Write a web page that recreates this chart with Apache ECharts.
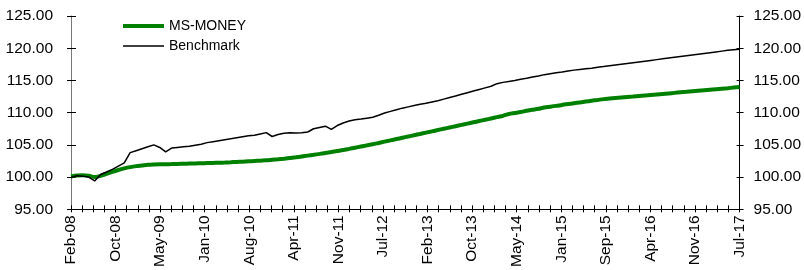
<!DOCTYPE html>
<html lang="en">
<head>
  <meta charset="UTF-8">
  <title>MS-MONEY vs Benchmark</title>
  <style>
    html, body { margin: 0; padding: 0; background: #fff; }
    #chart { width: 804px; height: 270px; }
  </style>
</head>
<body>
  <div id="chart"></div>
  <script src="https://cdn.jsdelivr.net/npm/echarts@6/dist/echarts.min.js"></script>
  <script>
    // tick labels on the date axis, one every 4 ticks (60 ticks from Feb-08 to Jul-17)
    var dateLabels = ['Feb-08', 'Oct-08', 'May-09', 'Jan-10', 'Aug-10', 'Apr-11', 'Nov-11', 'Jul-12',
      'Feb-13', 'Oct-13', 'May-14', 'Jan-15', 'Sep-15', 'Apr-16', 'Nov-16', 'Jul-17'];
    var totalMonths = 113;   // Feb-08 .. Jul-17
    var tickCount = 60;

    // monthly index values, Feb-08 .. Jul-17
    var msMoney = [
      100.1, 100.25, 100.3, 100.2, 100.0, 100.2, 100.5, 100.8, 101.1, 101.35,
      101.55, 101.7, 101.8, 101.9, 101.95, 101.98, 102.0, 102.02, 102.05, 102.07,
      102.1, 102.12, 102.15, 102.18, 102.2, 102.23, 102.26, 102.3, 102.35, 102.4,
      102.45, 102.5, 102.55, 102.6, 102.68, 102.76, 102.85, 102.95, 103.07, 103.2,
      103.33, 103.46, 103.6, 103.75, 103.9, 104.05, 104.2, 104.38, 104.56, 104.74,
      104.92, 105.1, 105.3, 105.5, 105.7, 105.9, 106.1, 106.3, 106.5, 106.7,
      106.9, 107.1, 107.3, 107.5, 107.7, 107.9, 108.1, 108.3, 108.5, 108.7,
      108.9, 109.1, 109.3, 109.5, 109.8, 109.95, 110.1, 110.3, 110.45, 110.6,
      110.8, 110.92, 111.05, 111.2, 111.33, 111.46, 111.59, 111.72, 111.85, 111.97,
      112.1, 112.18, 112.26, 112.34, 112.42, 112.5, 112.59, 112.67, 112.75, 112.83,
      112.91, 112.99, 113.07, 113.15, 113.23, 113.32, 113.4, 113.48, 113.56, 113.64,
      113.72, 113.8, 113.89, 113.97
    ];
    var benchmark = [
      99.95, 100.2, 100.15, 100.0, 99.4, 100.4, 100.8, 101.2, 101.7, 102.2,
      103.8, 104.1, 104.4, 104.7, 105.0, 104.6, 103.9, 104.5, 104.6, 104.7,
      104.8, 104.95, 105.1, 105.35, 105.5, 105.65, 105.8, 105.95, 106.1, 106.25,
      106.4, 106.5, 106.7, 106.9, 106.3, 106.6, 106.8, 106.9, 106.85, 106.9,
      107.0, 107.5, 107.7, 107.9, 107.4, 108.0, 108.4, 108.7, 108.9, 109.0,
      109.15, 109.3, 109.6, 109.95, 110.2, 110.45, 110.7, 110.9, 111.1, 111.3,
      111.45, 111.65, 111.85, 112.1, 112.35, 112.6, 112.85, 113.1, 113.35, 113.6,
      113.85, 114.1, 114.5, 114.7, 114.85, 115.0, 115.2, 115.35, 115.55, 115.7,
      115.9, 116.05, 116.2, 116.3, 116.45, 116.6, 116.7, 116.8, 116.9, 117.05,
      117.15, 117.27, 117.39, 117.51, 117.63, 117.75, 117.87, 117.99, 118.11, 118.23,
      118.35, 118.47, 118.59, 118.71, 118.83, 118.95, 119.07, 119.19, 119.31, 119.43,
      119.55, 119.67, 119.76, 119.85
    ];

    // month index -> position in tick units on the x axis
    function toPoints(values) {
      return values.map(function (v, m) {
        return [m * tickCount / totalMonths, v];
      });
    }

    var font = 'Liberation Sans';
    var yBase = {
      type: 'value', min: 95, max: 125, interval: 5,
      splitLine: { show: false },
      axisLine: { show: true, onZero: false, lineStyle: { color: '#000', width: 1 } },
      axisTick: { show: true, length: 4, lineStyle: { color: '#000' } }
    };
    function fmt(v) { return v.toFixed(2); }

    var myChart = echarts.init(document.getElementById('chart'));
    var option = {
      animation: false,
      backgroundColor: '#fff',
      grid: { left: 71, right: 60, top: 16, bottom: 60 },
      legend: {
        orient: 'vertical',
        left: 121, top: 19, padding: 0,
        itemWidth: 41, itemHeight: 14, itemGap: 6,
        itemStyle: { opacity: 0 },
        textStyle: { fontFamily: font, fontSize: 14, color: '#000' },
        data: [
          { name: 'MS-MONEY', lineStyle: { width: 4, color: '#008000' } },
          { name: 'Benchmark', lineStyle: { width: 1.5, color: '#000' } }
        ]
      },
      xAxis: [{
        type: 'value', min: 0, max: tickCount, interval: 1,
        splitLine: { show: false },
        axisLine: { onZero: false, lineStyle: { color: '#000' } },
        axisTick: { length: 3, lineStyle: { color: '#000' } },
        axisLabel: {
          rotate: 90, margin: 6,
          fontFamily: font, fontSize: 15.5, color: '#000',
          formatter: function (v) {
            var i = Math.round(v);
            return i % 4 === 0 ? dateLabels[i / 4] : '';
          }
        }
      }, {
        type: 'value', min: 0, max: tickCount, interval: 1, position: 'bottom',
        splitLine: { show: false },
        axisLine: { show: false, onZero: false },
        axisTick: { inside: true, length: 4, lineStyle: { color: '#000' } },
        axisLabel: { show: false }
      }],
      yAxis: [
        Object.assign({}, yBase, {
          position: 'left',
          axisLine: { show: true, onZero: false, lineStyle: { color: '#777', width: 1 } },
          axisLabel: { margin: 18, fontFamily: font, fontSize: 15.5, color: '#000', formatter: fmt }
        }),
        Object.assign({}, yBase, {
          position: 'right',
          axisLabel: { margin: 14, fontFamily: font, fontSize: 15.5, color: '#000', formatter: fmt }
        }),
        Object.assign({}, yBase, {
          position: 'left', axisLine: { show: false, onZero: false },
          axisTick: { inside: true, length: 5, lineStyle: { color: '#000' } },
          axisLabel: { show: false }
        }),
        Object.assign({}, yBase, {
          position: 'right', axisLine: { show: false, onZero: false },
          axisTick: { inside: true, length: 3, lineStyle: { color: '#000' } },
          axisLabel: { show: false }
        })
      ],
      series: [{
        name: 'MS-MONEY',
        type: 'line',
        symbol: 'none',
        smooth: 0.3,
        lineStyle: { color: '#008000', width: 4 },
        itemStyle: { color: '#008000' },
        data: toPoints(msMoney)
      }, {
        name: 'Benchmark',
        type: 'line',
        symbol: 'none',
        lineStyle: { color: '#000', width: 1.5 },
        itemStyle: { color: '#000' },
        data: toPoints(benchmark)
      }]
    };
    myChart.setOption(option);
  </script>
</body>
</html>
